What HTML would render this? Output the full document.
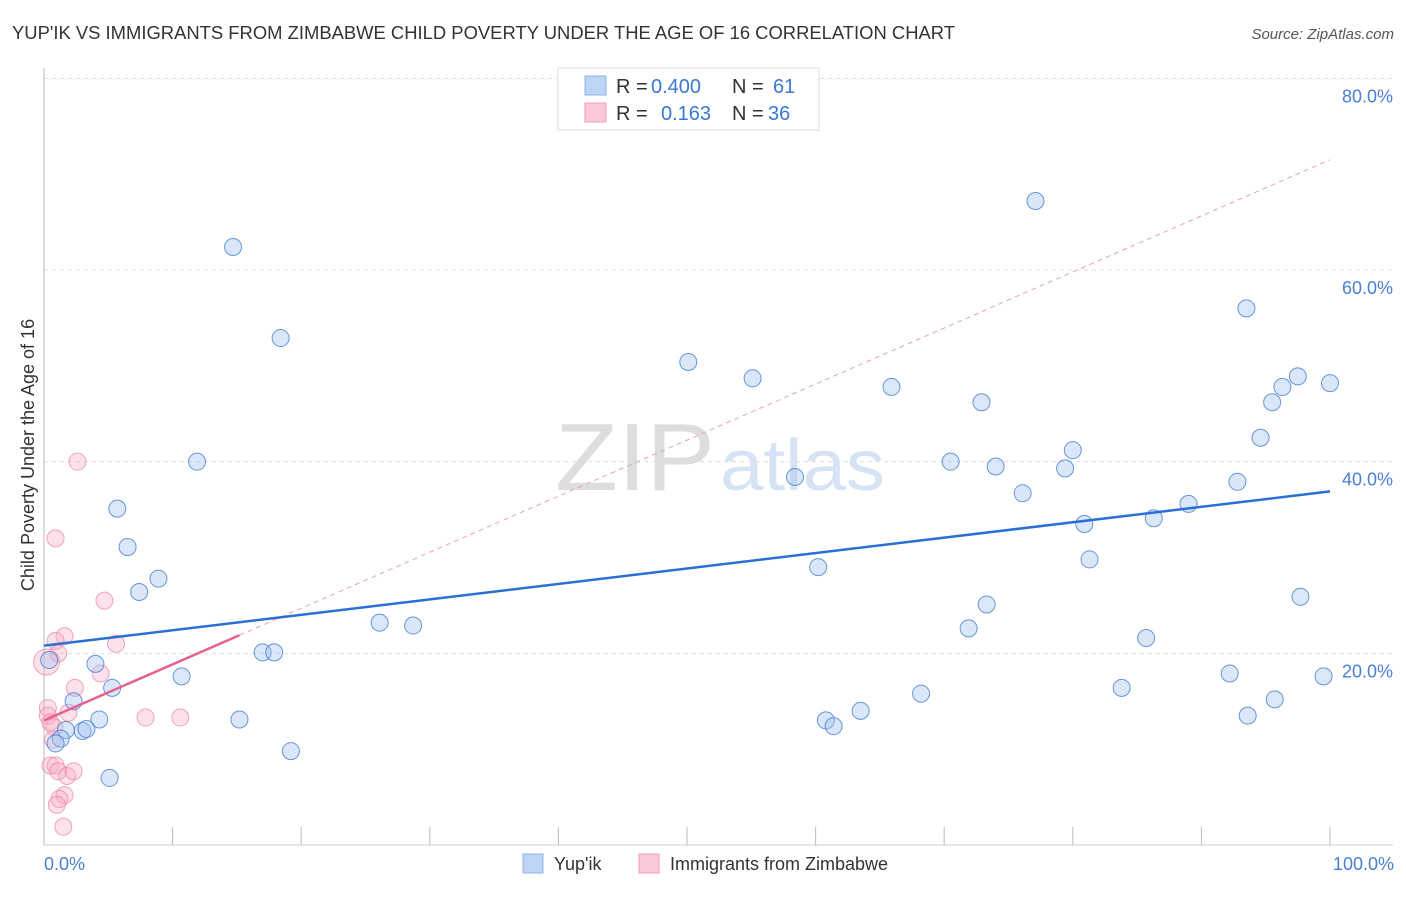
<!DOCTYPE html>
<html><head><meta charset="utf-8"><style>
body{margin:0;background:#fff;font-family:"Liberation Sans",sans-serif;}
svg text{font-family:"Liberation Sans",sans-serif;}
</style></head><body>
<svg width="1406" height="892" viewBox="0 0 1406 892">
<text x="12" y="39" font-size="18" fill="#333" textLength="943" lengthAdjust="spacingAndGlyphs">YUP'IK VS IMMIGRANTS FROM ZIMBABWE CHILD POVERTY UNDER THE AGE OF 16 CORRELATION CHART</text>
<text x="1394" y="39" font-size="15" fill="#555" text-anchor="end" font-style="italic">Source: ZipAtlas.com</text>
<g id="grid"></g>
<text x="555" y="490" font-size="96" fill="#ddd" textLength="160" lengthAdjust="spacingAndGlyphs" font-family="Liberation Serif">ZIP</text>
<text x="720" y="490" font-size="72" fill="#d6e3f5" textLength="165" lengthAdjust="spacingAndGlyphs">atlas</text>
<g id="pts"></g>
<g id="lines"></g>
<text transform="translate(34,455) rotate(-90)" font-size="18" fill="#333" text-anchor="middle">Child Poverty Under the Age of 16</text>
<text x="44" y="870" font-size="18" fill="#4a7fd4">0.0%</text>
<text x="1394" y="870" font-size="18" fill="#4a7fd4" text-anchor="end">100.0%</text>
<g>
<rect x="558" y="68" width="261" height="62" fill="#fff" stroke="#ddd"/>
<rect x="585" y="76" width="21" height="19" fill="#bcd4f5" stroke="#8fb0e6"/>
<rect x="585" y="103" width="21" height="19" fill="#fcc9d8" stroke="#f09bb5"/>
<text x="616" y="93" font-size="20" fill="#333">R = </text><text x="651" y="93" font-size="20" fill="#3a78d4">0.400</text>
<text x="732" y="93" font-size="20" fill="#333">N = </text><text x="773" y="93" font-size="20" fill="#3a78d4">61</text>
<text x="616" y="120" font-size="20" fill="#333">R = </text><text x="661" y="120" font-size="20" fill="#3a78d4">0.163</text>
<text x="732" y="120" font-size="20" fill="#333">N = </text><text x="768" y="120" font-size="20" fill="#3a78d4">36</text>
</g>
<g>
<rect x="523" y="854" width="20" height="19" fill="#bcd4f5" stroke="#8fb0e6"/>
<text x="554" y="870" font-size="18" fill="#333">Yup'ik</text>
<rect x="639" y="854" width="20" height="19" fill="#fcc9d8" stroke="#f09bb5"/>
<text x="670" y="870" font-size="18" fill="#333">Immigrants from Zimbabwe</text>
</g>
</svg>
<script>
const blueX=[14.7,18.4,11.9,5.7,6.5,8.9,7.4,4.0,5.3,10.7,2.3,4.3,3.0,3.3,1.7,1.3,0.9,0.4,5.1,15.2,19.2,17.0,17.9,26.1,28.7,50.1,55.1,58.4,60.2,60.8,61.4,63.5,65.9,68.2,70.5,71.9,72.9,73.3,74.0,76.1,77.1,79.4,80.0,80.9,81.3,83.8,85.7,86.3,89.0,92.2,92.8,93.5,93.6,94.6,95.5,95.7,96.3,97.5,97.7,99.5,100];
const blueY=[62.4,52.9,40.0,35.1,31.1,27.8,26.4,18.9,16.4,17.6,15.0,13.1,11.9,12.1,12.0,11.1,10.6,19.3,7.0,13.1,9.8,20.1,20.1,23.2,22.9,50.4,48.7,38.4,29.0,13.0,12.4,14.0,47.8,15.8,40.0,22.6,46.2,25.1,39.5,36.7,67.2,39.3,41.2,33.5,29.8,16.4,21.6,34.1,35.6,17.9,37.9,56.0,13.5,42.5,46.2,15.2,47.8,48.9,25.9,17.6,48.2];
const pinkX=[2.6,0.9,4.7,1.6,0.9,1.1,5.6,4.4,2.4,1.9,7.9,10.6,0.3,0.3,0.5,0.8,0.7,0.5,0.9,1.1,1.8,2.3,1.6,1.2,1.0,1.5,0.2];
const pinkY=[40.0,32.0,25.5,21.8,21.3,20.0,21.0,17.9,16.4,13.8,13.3,13.3,14.3,13.5,12.8,12.3,11.0,8.3,8.3,7.7,7.2,7.7,5.2,4.8,4.2,1.9,19.1];
const yTicks=[20,40,60,80];
const yTickLabels=["20.0%","40.0%","60.0%","80.0%"];
const blueTrend=[20.8,36.9]; // at x=0 and x=100
const pinkTrend=[13.0,0.585]; // intercept, slope
const NS="http://www.w3.org/2000/svg";
const sx=v=>44+v*12.86, sy=v=>845-v*9.583;
function mk(t,a,p){const e=document.createElementNS(NS,t);for(const k in a)e.setAttribute(k,a[k]);p.appendChild(e);return e;}
const g=document.getElementById('grid');
yTicks.forEach((t,i)=>{
 const l=mk('line',{x1:44,x2:1393,y1:sy(t),y2:sy(t),stroke:'#ddd','stroke-dasharray':'4,4'},g);
 
 
 const tx=mk('text',{x:1393,y:sy(t)+24,'font-size':18,fill:'#4a7fd4','text-anchor':'end'},g);
 tx.textContent=yTickLabels[i];
 
 
});
const ax=mk('line',{x1:44,x2:44,y1:68,y2:845,stroke:'#bbb'},g);


const bx=mk('line',{x1:44,x2:1393,y1:845,y2:845,stroke:'#ccc'},g);


for(let i=0;i<=10;i++){
 const t=mk('line',{x1:sx(i*10),x2:sx(i*10),y1:827,y2:845,stroke:'#bbb'},g);
 
 
}
const P=document.getElementById('pts');
pinkX.forEach((x,i)=>{
 const c=mk('circle',{cx:sx(x),cy:sy(pinkY[i]),r:i==pinkX.length-1?13:8.5,fill:'rgba(249,170,195,0.35)',stroke:'rgba(235,130,165,0.7)','stroke-width':1},P);
 
 
});
blueX.forEach((x,i)=>{
 const c=mk('circle',{cx:sx(x),cy:sy(blueY[i]),r:8.5,fill:'rgba(160,195,240,0.4)',stroke:'rgba(70,125,210,0.8)','stroke-width':1},P);
 
 
});
const L=document.getElementById('lines');
const d=mk('line',{x1:sx(15.2),y1:sy(pinkTrend[0]+pinkTrend[1]*15.2),x2:sx(100),y2:sy(pinkTrend[0]+pinkTrend[1]*100),stroke:'#eaa0b8','stroke-width':1,'stroke-dasharray':'5,4'},L);


const pl=mk('line',{x1:sx(0),y1:sy(pinkTrend[0]),x2:sx(15.2),y2:sy(pinkTrend[0]+pinkTrend[1]*15.2),stroke:'#e8608e','stroke-width':2.5},L);


const bl=mk('line',{x1:sx(0),y1:sy(blueTrend[0]),x2:sx(100),y2:sy(blueTrend[1]),stroke:'#2a6fd6','stroke-width':2.5},L);


</script>
</body></html>
